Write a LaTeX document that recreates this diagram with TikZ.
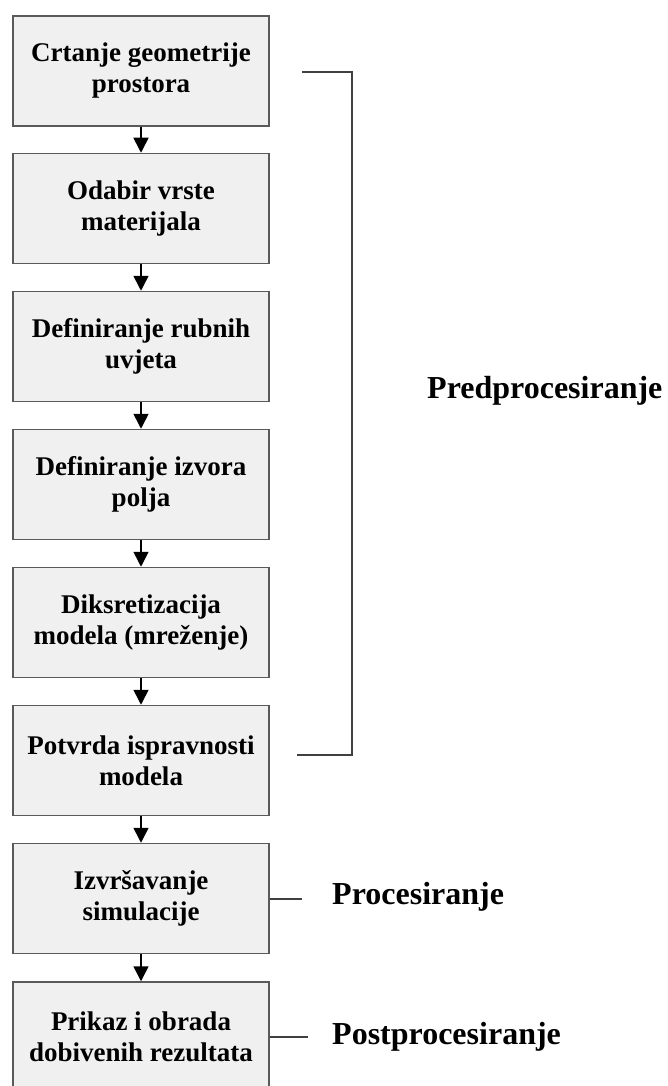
\documentclass[tikz,border=0pt]{standalone}
\usepackage{fontspec}
\setmainfont{Liberation Serif}
\usetikzlibrary{arrows.meta}
\definecolor{boxfill}{HTML}{F0F0F0}
\definecolor{boxedge}{HTML}{5A5A5A}
\definecolor{bracketgray}{HTML}{404040}
\tikzstyle{stepbox}=[draw=boxedge,fill=boxfill,line width=1.5pt,minimum width=256pt,minimum height=110pt,align=center,inner sep=0pt,font=\fontsize{27}{31}\selectfont\bfseries]
\tikzstyle{flowarrow}=[-{Triangle[width=15pt,length=15pt]},line width=1.6pt]
\tikzstyle{bracketline}=[draw=bracketgray,line width=2pt]
\tikzstyle{phaselabel}=[anchor=west,inner sep=0pt,font=\fontsize{32}{36}\selectfont\bfseries]

\begin{document}
\begin{tikzpicture}[x=1pt,y=-1pt]
	\useasboundingbox (0,0) rectangle (667,1086);
	% steps
	\node[stepbox] (crtanje) at (141,71) {Crtanje geometrije\\prostora};
	\node[stepbox] (odabir) at (141,208.5) {Odabir vrste\\materijala};
	\node[stepbox] (rubni) at (141,346.5) {Definiranje rubnih\\uvjeta};
	\node[stepbox] (izvor) at (141,484.5) {Definiranje izvora\\polja};
	\node[stepbox] (mreza) at (141,622.5) {Diksretizacija\\modela (mreženje)};
	\node[stepbox] (potvrda) at (141,760.5) {Potvrda ispravnosti\\modela};
	\node[stepbox] (izvrsavanje) at (141,898.5) {Izvršavanje\\simulacije};
	\node[stepbox] (prikaz) at (141,1037) {Prikaz i obrada\\dobivenih rezultata};
	\draw[flowarrow] (crtanje) -- (odabir);
	\draw[flowarrow] (odabir) -- (rubni);
	\draw[flowarrow] (rubni) -- (izvor);
	\draw[flowarrow] (izvor) -- (mreza);
	\draw[flowarrow] (mreza) -- (potvrda);
	\draw[flowarrow] (potvrda) -- (izvrsavanje);
	\draw[flowarrow] (izvrsavanje) -- (prikaz);
	% phases
	\node[phaselabel] (pred) at (427,391) {Predprocesiranje};
	\node[phaselabel] (proc) at (332,897) {Procesiranje};
	\node[phaselabel] (post) at (332,1037) {Postprocesiranje};
	\coordinate (predtop) at (302,72);
	\coordinate (predbot) at (297,755);
	\draw[bracketline] (predtop) -- ++(50,0) |- (predbot);
	\draw[bracketline] (izvrsavanje.east) -- ++(32,0);
	\draw[bracketline] (prikaz.east) -- ++(38,0);
\end{tikzpicture}
\end{document}
